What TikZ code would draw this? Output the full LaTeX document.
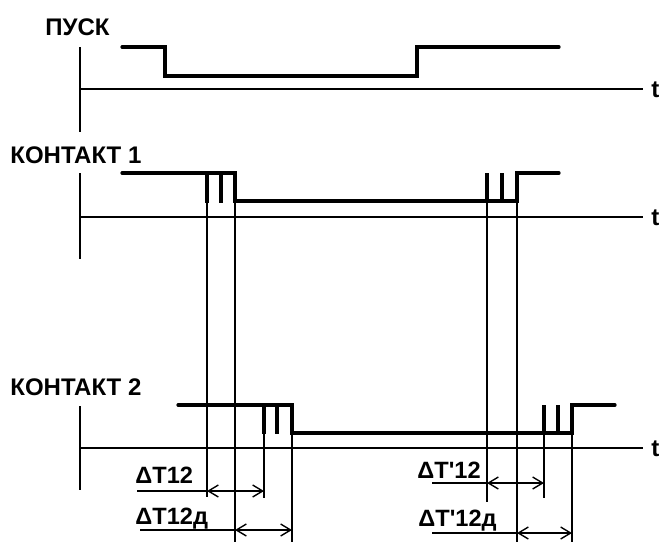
\documentclass[tikz,border=0pt]{standalone}
\usepackage{fontspec}
\setmainfont{Liberation Sans}
\usetikzlibrary{arrows.meta}

\begin{document}
\begin{tikzpicture}[
  x=0.5pt, y=-0.5pt, font=\bfseries\fontsize{12}{14}\selectfont,
  >={Straight Barb[length=5pt,width=6pt]},
  lbl/.style={anchor=base west, inner sep=0pt},
  dlbl/.style={lbl, font=\bfseries\fontsize{11.8}{14}\selectfont},
  sig/.style={line width=1.6pt, line cap=round},
  stub/.style={line width=1.6pt},
  ax/.style={line width=0.8pt},
  guide/.style={line width=0.8pt},
  dimarr/.style={line width=0.7pt, <->},
  lead/.style={line width=0.7pt}]
\useasboundingbox (0,0) rectangle (659,542);

% axes
\node[lbl] (pusk) at (45,35) {ПУСК};
\node[lbl] (t0) at (651,97) {t};
\draw[ax] (80,47) -- (80,132);
\draw[ax] (80,89) -- (643,89);

\node[lbl] (kont1) at (10,163) {КОНТАКТ 1};
\node[lbl] (t1) at (651,225) {t};
\draw[ax] (80,173) -- (80,259);
\draw[ax] (80,217) -- (643,217);

\node[lbl] (kont2) at (10,395) {КОНТАКТ 2};
\node[lbl] (t2) at (651,456) {t};
\draw[ax] (80,406) -- (80,490);
\draw[ax] (80,448) -- (643,448);

% guide lines
\coordinate (k1on)  at (207,173);
\coordinate (k1off) at (235,201);
\coordinate (k1on')  at (487,173);
\coordinate (k1off') at (517,173);
\coordinate (k2on)  at (264,405);
\coordinate (k2off) at (292,433);
\coordinate (k2on')  at (544,405);
\coordinate (k2off') at (572,405);
\draw[guide] (k1on) -- (207,497);
\draw[guide] (k1off) -- (235,542);
\draw[guide] (k1on') -- (487,502);
\draw[guide] (k1off') -- (517,542);
\draw[guide] (k2on) -- (264,498);
\draw[guide] (k2off) -- (292,542);
\draw[guide] (k2on') -- (544,498);
\draw[guide] (k2off') -- (572,542);

% signals
\draw[sig] (122,47) -- (165,47) -- (165,76) -- (417,76) -- (417,47) -- (559,47);

\draw[sig] (122,173) -- (235,173) -- (235,201) -- (517,201) -- (517,173) -- (559,173);
\draw[stub] (207,173) -- (207,203);
\draw[stub] (221,173) -- (221,203);
\draw[stub] (487,201) -- (487,173);
\draw[stub] (502,201) -- (502,173);

\draw[sig] (178,405) -- (292,405) -- (292,433) -- (572,433) -- (572,405) -- (615,405);
\draw[stub] (264,405) -- (264,434);
\draw[stub] (277,405) -- (277,434);
\draw[stub] (544,433) -- (544,405);
\draw[stub] (558,433) -- (558,405);

% intervals
\node[dlbl] (dt) at (135,483) {ΔT12};
\coordinate (dtl) at (207,491);
\coordinate (dtr) at (264,491);
\draw[lead] (137,491) -- (dtl);
\draw[dimarr] (dtl) -- (dtr);

\node[dlbl] (dtd) at (135,524) {ΔT12д};
\coordinate (dtdl) at (235,530);
\coordinate (dtdr) at (292,530);
\draw[lead] (140,530) -- (dtdl);
\draw[dimarr] (dtdl) -- (dtdr);

\node[dlbl] (dtp) at (417,478) {ΔT\textquotesingle 12};
\coordinate (dtpl) at (487,483);
\coordinate (dtpr) at (544,483);
\draw[lead] (432,483) -- (dtpl);
\draw[dimarr] (dtpl) -- (dtpr);

\node[dlbl] (dtpd) at (418,526) {ΔT\textquotesingle 12д};
\coordinate (dtpdl) at (517,533);
\coordinate (dtpdr) at (572,533);
\draw[lead] (432,533) -- (dtpdl);
\draw[dimarr] (dtpdl) -- (dtpdr);
\end{tikzpicture}
\end{document}
